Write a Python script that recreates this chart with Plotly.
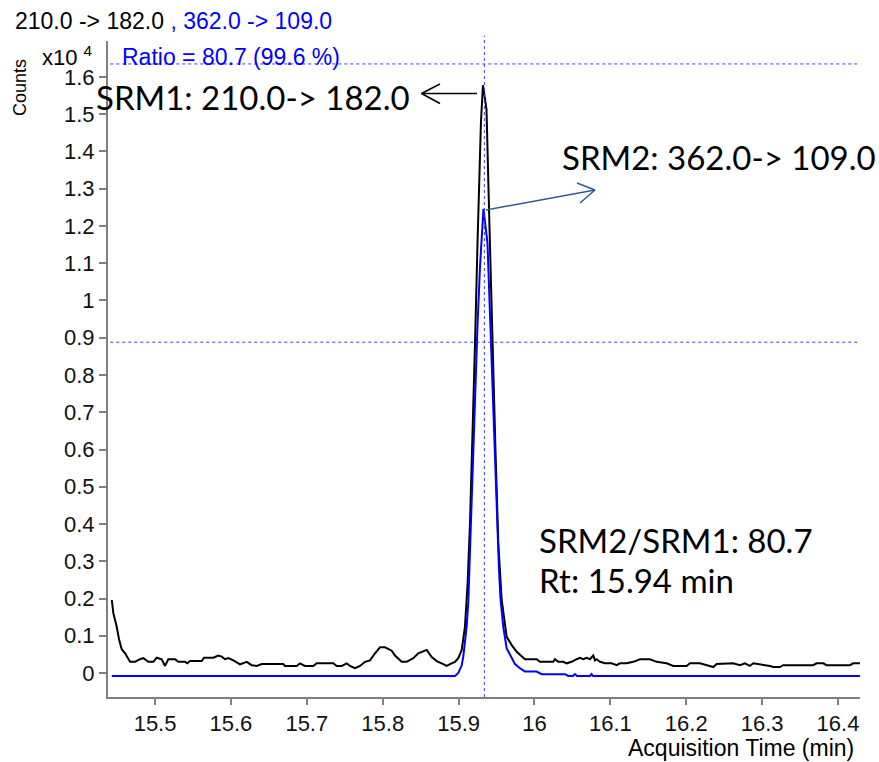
import plotly.graph_objects as go

# ---------------- data (counts in units of x10^4) ----------------
srm1_time = [15.4430, 15.4451, 15.4495, 15.4526, 15.4561, 15.4605, 15.4671, 15.4736, 15.4802, 15.4846,
             15.4912, 15.4978, 15.5022, 15.5088, 15.5132, 15.5175, 15.5264, 15.5307, 15.5395, 15.5426,
             15.5461, 15.5615, 15.5646, 15.5768, 15.5834, 15.5879, 15.5922, 15.5966, 15.6032, 15.6120,
             15.6208, 15.6274, 15.6340, 15.6406, 15.6690, 15.6713, 15.6867, 15.6910, 15.6976, 15.7086,
             15.7130, 15.7349, 15.7394, 15.7460, 15.7526, 15.7569, 15.7635, 15.7701, 15.7767, 15.7833,
             15.7899, 15.7964, 15.8030, 15.8119, 15.8162, 15.8250, 15.8316, 15.8403, 15.8469, 15.8514,
             15.8580, 15.8646, 15.8711, 15.8798, 15.8843, 15.8887, 15.8953, 15.8996, 15.9041, 15.9084,
             15.9119, 15.9150, 15.9184, 15.9216, 15.9249, 15.9295, 15.9321, 15.9368, 15.9407, 15.9445,
             15.9486, 15.9523, 15.9568, 15.9634, 15.9700, 15.9766, 15.9831, 15.9875, 16.0029, 16.0072,
             16.0248, 16.0270, 16.0314, 16.0379, 16.0424, 16.0490, 16.0556, 16.0599, 16.0643, 16.0688,
             16.0731, 16.0775, 16.0797, 16.0819, 16.0863, 16.0929, 16.1017, 16.1083, 16.1126, 16.1215,
             16.1302, 16.1390, 16.1522, 16.1610, 16.1742, 16.1829, 16.2005, 16.2049, 16.2180, 16.2312,
             16.2356, 16.2401, 16.2619, 16.2708, 16.2773, 16.2839, 16.2883, 16.3103, 16.3146, 16.3235,
             16.3278, 16.3673, 16.3718, 16.3805, 16.3850, 16.4157, 16.4200, 16.4289]
srm1_counts = [0.196, 0.16, 0.124, 0.09, 0.064, 0.053, 0.03, 0.03, 0.037, 0.04,
               0.03, 0.03, 0.041, 0.037, 0.019, 0.037, 0.037, 0.03, 0.03, 0.026,
               0.032, 0.032, 0.041, 0.041, 0.047, 0.044, 0.037, 0.04, 0.034, 0.023,
               0.03, 0.021, 0.019, 0.024, 0.024, 0.019, 0.019, 0.026, 0.019, 0.019,
               0.026, 0.026, 0.019, 0.019, 0.026, 0.019, 0.013, 0.019, 0.03, 0.034,
               0.053, 0.069, 0.069, 0.06, 0.047, 0.03, 0.03, 0.04, 0.053, 0.057,
               0.062, 0.043, 0.032, 0.024, 0.019, 0.024, 0.03, 0.04, 0.062, 0.124,
               0.24, 0.4, 0.63, 0.88, 1.15, 1.48, 1.578, 1.513, 1.2, 0.894,
               0.6, 0.35, 0.196, 0.097, 0.075, 0.057, 0.044, 0.037, 0.037, 0.03,
               0.03, 0.037, 0.03, 0.03, 0.026, 0.03, 0.037, 0.041, 0.037, 0.041,
               0.037, 0.047, 0.034, 0.037, 0.03, 0.026, 0.026, 0.021, 0.026, 0.026,
               0.03, 0.037, 0.037, 0.03, 0.026, 0.019, 0.019, 0.026, 0.026, 0.019,
               0.016, 0.024, 0.026, 0.021, 0.026, 0.019, 0.026, 0.019, 0.016, 0.016,
               0.021, 0.021, 0.026, 0.026, 0.021, 0.021, 0.026, 0.026]

srm2_time = [15.4430, 15.8953, 15.8996, 15.9041, 15.9062, 15.9084, 15.9106, 15.9128, 15.9150, 15.9183,
             15.9216, 15.9249, 15.9282, 15.9328, 15.9381, 15.9414, 15.9445, 15.9480, 15.9511, 15.9532,
             15.9552, 15.9589, 15.9634, 15.9677, 15.9743, 15.9809, 15.9875, 16.0029, 16.0095, 16.0402,
             16.0445, 16.0507, 16.0534, 16.0560, 16.0731, 16.0753, 16.0771, 16.4289]
srm2_counts = [-0.008, -0.008, 0.0, 0.02, 0.044, 0.08, 0.124, 0.19, 0.33, 0.56,
               0.76, 0.93, 1.09, 1.246, 1.154, 0.96, 0.763, 0.55, 0.372, 0.28,
               0.2, 0.124, 0.066, 0.048, 0.024, 0.013, 0.004, 0.004, -0.003, -0.003,
               -0.008, -0.008, -0.003, -0.008, -0.008, -0.003, -0.008, -0.008]

rt_marker = 15.934
ratio_limits = [0.888, 1.635]
x_ticks = [15.5, 15.6, 15.7, 15.8, 15.9, 16.0, 16.1, 16.2, 16.3, 16.4]
y_ticks = [0, 0.1, 0.2, 0.3, 0.4, 0.5, 0.6, 0.7, 0.8, 0.9, 1.0, 1.1, 1.2, 1.3, 1.4, 1.5, 1.6]

header_black = "210.0 -> 182.0"
header_blue = ", 362.0 -> 109.0"
ratio_text = "Ratio = 80.7 (99.6 %)"
srm1_label = "SRM1: 210.0-> 182.0"
srm2_label = "SRM2: 362.0-> 109.0"
ratio_label = "SRM2/SRM1: 80.7"
rt_label = "Rt: 15.94 min"

# ---------------- layout geometry ----------------
W, H = 879, 762
L, R, T, B = 108, 19, 41, 65
PW, PH = W - L - R, H - T - B
X_RANGE = [15.438, 16.429]
Y_RANGE = [-0.0644, 1.6966]


def fx(p):  # pixel x -> paper
    return (p - L) / PW


def fy(p):  # pixel y -> paper
    return (H - B - p) / PH


AX_FONT = "Liberation Sans, Arial, sans-serif"
BIG_FONT = "Lato, Carlito, Calibri, sans-serif"
AXIS_GRAY = "#808080"
DOT_BLUE = "#3a3aff"

fig = go.Figure()
fig.add_trace(go.Scatter(x=srm1_time, y=srm1_counts, mode="lines",
                         line=dict(color="black", width=2), hoverinfo="skip", showlegend=False))
fig.add_trace(go.Scatter(x=srm2_time, y=srm2_counts, mode="lines",
                         line=dict(color="#0000ff", width=2), hoverinfo="skip", showlegend=False))

shapes = []
for yv in ratio_limits:
    shapes.append(dict(type="line", xref="paper", yref="y", x0=0.003, x1=1, y0=yv, y1=yv,
                       line=dict(color=DOT_BLUE, width=1, dash="dot")))
shapes.append(dict(type="line", xref="x", yref="paper", x0=rt_marker, x1=rt_marker, y0=0, y1=1.008,
                   line=dict(color=DOT_BLUE, width=1, dash="dot")))


# arrows (open V heads)
def arrow(tail, tip, arm1, arm2, color):
    out = []
    for a, b in [(tail, tip), (arm1, tip), (arm2, tip)]:
        out.append(dict(type="line", xref="paper", yref="paper",
                        x0=fx(a[0]), y0=fy(a[1]), x1=fx(b[0]), y1=fy(b[1]),
                        line=dict(color=color, width=1.5)))
    return out


shapes += arrow((477, 93.5), (421.5, 93.5), (440, 84), (440, 103.5), "black")
shapes += arrow((486, 210), (595, 190), (577, 183), (580, 203), "#2f5a8f")

annotations = [
    dict(xref="paper", yref="paper", x=fx(13), y=fy(21), xanchor="left", yanchor="middle",
         text=header_black + " <span style='color:#0000ff'>" + header_blue + "</span>",
         showarrow=False, font=dict(family=AX_FONT, size=23, color="black")),
    dict(xref="paper", yref="paper", x=fx(40), y=fy(56), xanchor="left", yanchor="middle",
         text="x10 <sup>4</sup>", showarrow=False, font=dict(family=AX_FONT, size=22, color="black")),
    dict(xref="paper", yref="paper", x=fx(20), y=fy(88), xanchor="center", yanchor="middle",
         text="Counts", textangle=-90, showarrow=False, font=dict(family=AX_FONT, size=18, color="black")),
    dict(xref="paper", yref="paper", x=fx(120), y=fy(57), xanchor="left", yanchor="middle",
         text=ratio_text, showarrow=False, font=dict(family=AX_FONT, size=23, color="#0000ff")),
    dict(xref="paper", yref="paper", x=fx(856), y=fy(748), xanchor="right", yanchor="middle",
         text="Acquisition Time (min)", showarrow=False, font=dict(family=AX_FONT, size=23, color="black")),
    dict(xref="paper", yref="paper", x=fx(412), y=fy(97), xanchor="right", yanchor="middle",
         text=srm1_label, showarrow=False, font=dict(family=BIG_FONT, size=33, color="black")),
    dict(xref="paper", yref="paper", x=fx(560), y=fy(157), xanchor="left", yanchor="middle",
         text=srm2_label, showarrow=False, font=dict(family=BIG_FONT, size=33, color="black")),
    dict(xref="paper", yref="paper", x=fx(537), y=fy(540), xanchor="left", yanchor="middle",
         text=ratio_label, showarrow=False, font=dict(family=BIG_FONT, size=33, color="black")),
    dict(xref="paper", yref="paper", x=fx(537), y=fy(580), xanchor="left", yanchor="middle",
         text=rt_label, showarrow=False, font=dict(family=BIG_FONT, size=33, color="black")),
]

fig.update_layout(
    width=W, height=H, autosize=False,
    margin=dict(l=L, r=R, t=T, b=B, pad=0),
    plot_bgcolor="white", paper_bgcolor="white",
    shapes=shapes, annotations=annotations,
    xaxis=dict(range=X_RANGE, tickmode="array", tickvals=x_ticks,
               ticktext=[("%g" % v) for v in x_ticks],
               showgrid=False, zeroline=False, showline=True, linecolor=AXIS_GRAY, linewidth=2,
               ticks="outside", ticklen=6, tickcolor=AXIS_GRAY, tickwidth=1.5,
               tickfont=dict(family=AX_FONT, size=22, color="#111")),
    yaxis=dict(range=Y_RANGE, tickmode="array", tickvals=y_ticks,
               ticktext=[("%g" % v) for v in y_ticks],
               showgrid=False, zeroline=False, showline=True, linecolor=AXIS_GRAY, linewidth=2,
               ticks="outside", ticklen=7, tickcolor=AXIS_GRAY, tickwidth=1.5,
               tickfont=dict(family=AX_FONT, size=22, color="#111")),
)

fig.write_html("out.html", config={"displayModeBar": False},
               post_script="document.body.style.margin='0';")
